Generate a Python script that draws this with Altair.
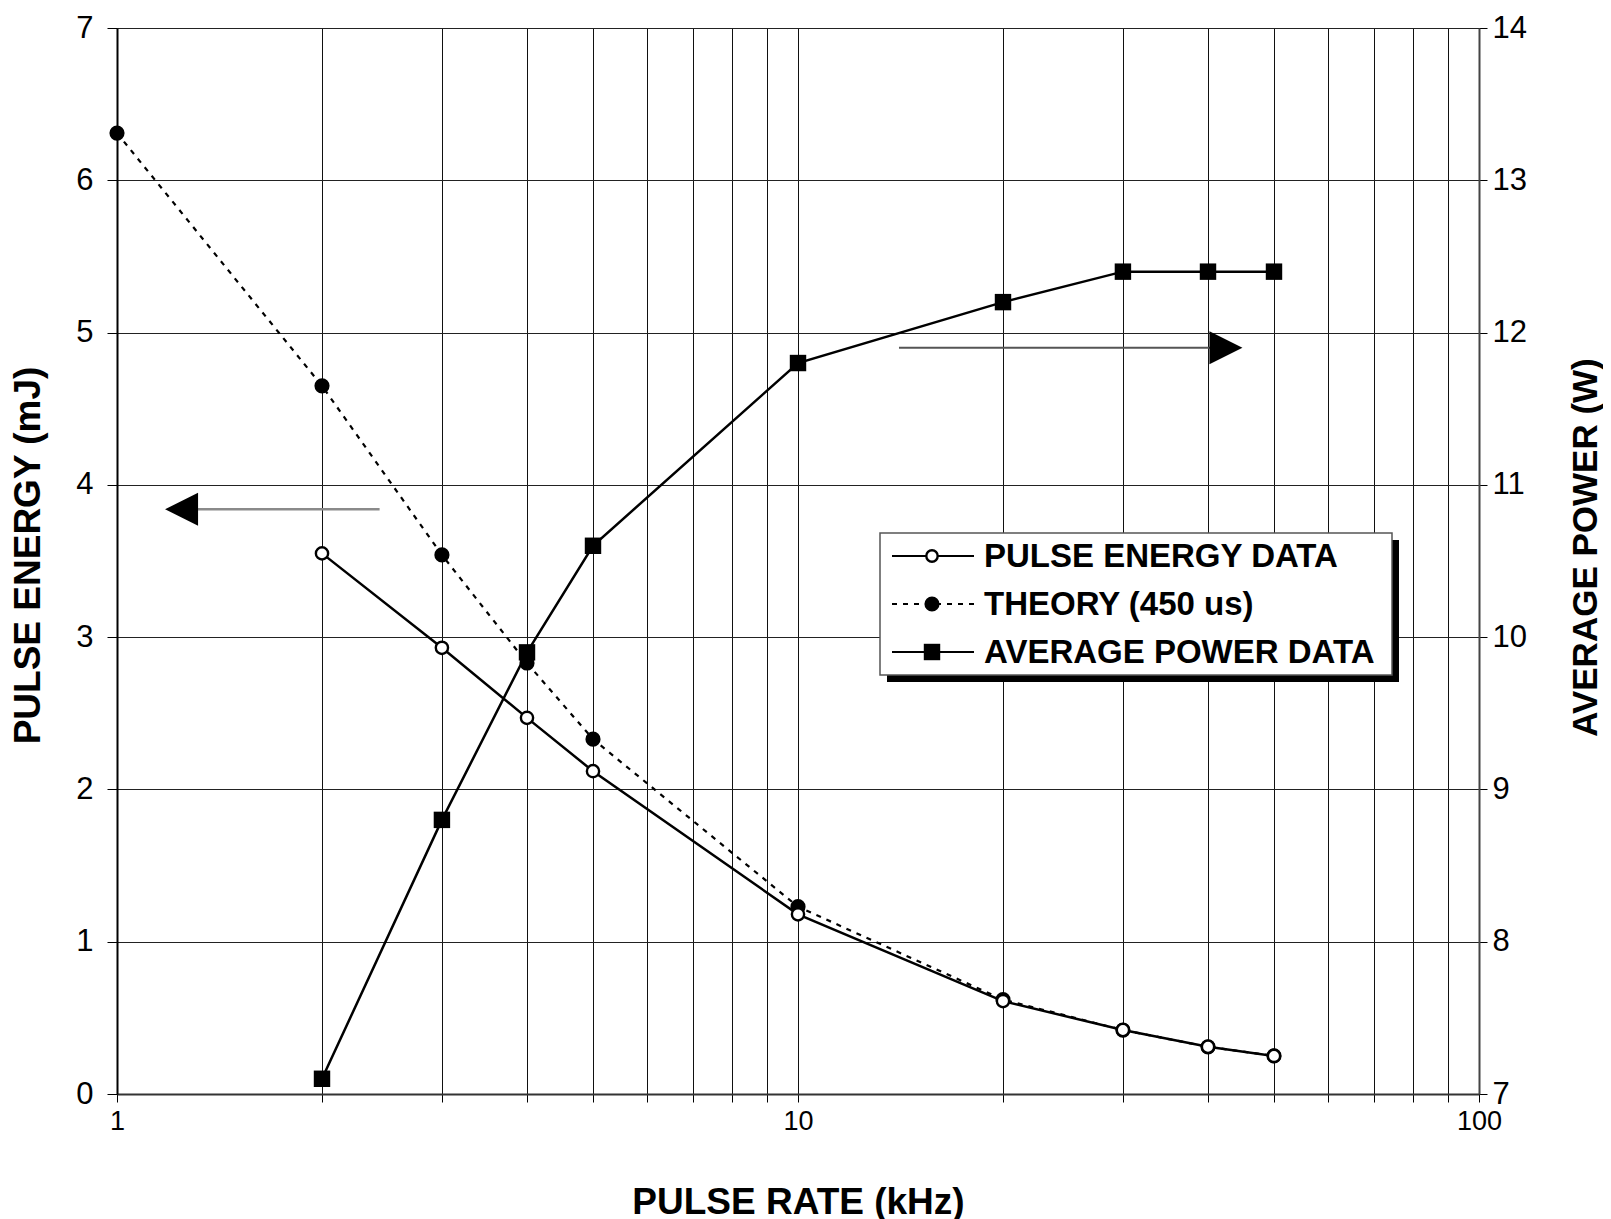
import altair as alt
import pandas as pd

# ---- data ----
rate_theory = [1, 2, 3, 4, 5, 10, 20, 30, 40, 50]
theory = [6.31, 4.65, 3.54, 2.83, 2.33, 1.23, 0.62, 0.42, 0.31, 0.25]

rate_data = [2, 3, 4, 5, 10, 20, 30, 40, 50]
energy = [3.55, 2.93, 2.47, 2.12, 1.18, 0.61, 0.42, 0.31, 0.25]
power = [7.1, 8.8, 9.9, 10.6, 11.8, 12.2, 12.4, 12.4, 12.4]

series_names = ["PULSE ENERGY DATA", "THEORY (450 us)", "AVERAGE POWER DATA"]

x_ticks = [1, 2, 3, 4, 5, 6, 7, 8, 9, 10, 20, 30, 40, 50, 60, 70, 80, 90, 100]
left_ticks = [0, 1, 2, 3, 4, 5, 6, 7]
right_ticks = [7, 8, 9, 10, 11, 12, 13, 14]

# arrows (data coordinates)
left_arrow_x = [2.43, 1.315]
left_arrow_y = 3.84
left_head_x = 1.244
right_arrow_x = [14.07, 40.3]
right_arrow_y = 11.90
right_head_x = 42.5

FONT = "Liberation Sans"
W, H = 1362, 1066

theory_df = pd.DataFrame({"rate": rate_theory, "val": theory})
energy_df = pd.DataFrame({"rate": rate_data, "val": energy})
power_df = pd.DataFrame({"rate": rate_data, "val": power})

xscale = alt.Scale(type="log", domain=[1, 100], nice=False)
xaxis = alt.Axis(
    values=x_ticks,
    labelExpr="(datum.value == 1 || datum.value == 10 || datum.value == 100) ? datum.label : ''",
    labelFlush=False,
    title="PULSE RATE (kHz)",
    grid=True, gridColor="#111111", gridWidth=1, gridOpacity=1,
    tickSize=8, tickColor="#000000", domain=True, domainColor="#333333", domainWidth=2,
    labelFont=FONT, labelFontSize=27, labelPadding=6, labelColor="#000000",
    titleFont=FONT, titleFontSize=37, titleFontWeight="bold", titlePadding=50, titleColor="#000000",
)
ey = alt.Scale(domain=[0, 7], nice=False, zero=False)
py = alt.Scale(domain=[7, 14], nice=False, zero=False)
left_axis = alt.Axis(
    orient="left", values=left_ticks, format="d", title="PULSE ENERGY (mJ)",
    grid=True, gridColor="#222222", gridWidth=1, gridOpacity=1,
    tickSize=10, tickColor="#000000", domainColor="#000000", domainWidth=2,
    labelFont=FONT, labelFontSize=31, labelPadding=14, labelColor="#000000",
    titleFont=FONT, titleFontSize=37, titleFontWeight="bold", titlePadding=28,
    titleY=527, titleColor="#000000",
)
right_axis = alt.Axis(
    orient="right", values=right_ticks, format="d", title="AVERAGE POWER (W)",
    grid=False, tickSize=8, tickColor="#000000", domainColor="#444444", domainWidth=2,
    labelFont=FONT, labelFontSize=31, labelPadding=5, labelColor="#000000",
    titleFont=FONT, titleFontSize=35, titleFontWeight="bold", titlePadding=77,
    titleAngle=270, titleY=519, titleColor="#000000",
)

X = alt.X("rate:Q", scale=xscale, axis=xaxis)
Xn = alt.X("rate:Q", scale=xscale)

theory_line = alt.Chart(theory_df).mark_line(
    color="black", strokeWidth=2.2, strokeDash=[5, 6]
).encode(x=X, y=alt.Y("val:Q", scale=ey, axis=left_axis))
theory_pts = alt.Chart(theory_df).mark_point(
    shape="circle", filled=True, color="black", size=230, opacity=1
).encode(x=Xn, y=alt.Y("val:Q", scale=ey))
energy_line = alt.Chart(energy_df).mark_line(color="black", strokeWidth=2.5).encode(
    x=Xn, y=alt.Y("val:Q", scale=ey))
energy_pts = alt.Chart(energy_df).mark_point(
    shape="circle", filled=True, fill="white", stroke="black", strokeWidth=2.4, size=150, opacity=1
).encode(x=Xn, y=alt.Y("val:Q", scale=ey))

la_df = pd.DataFrame({"rate": left_arrow_x, "val": [left_arrow_y] * 2})
la_line = alt.Chart(la_df).mark_line(color="#8a8a8a", strokeWidth=2.5).encode(
    x=Xn, y=alt.Y("val:Q", scale=ey))
la_head = alt.Chart(pd.DataFrame({"rate": [left_head_x], "val": [left_arrow_y]})).mark_point(
    shape="M-1,0L1,-1L1,1Z", filled=True, color="black", size=1089, opacity=1
).encode(x=Xn, y=alt.Y("val:Q", scale=ey))

energy_layer = alt.layer(theory_line, theory_pts, energy_line, energy_pts, la_line, la_head)

power_line = alt.Chart(power_df).mark_line(color="black", strokeWidth=2.5).encode(
    x=Xn, y=alt.Y("val:Q", scale=py, axis=right_axis))
power_pts = alt.Chart(power_df).mark_point(
    shape="square", filled=True, color="black", size=270, opacity=1
).encode(x=Xn, y=alt.Y("val:Q", scale=py))
ra_df = pd.DataFrame({"rate": right_arrow_x, "val": [right_arrow_y] * 2})
ra_line = alt.Chart(ra_df).mark_line(color="#555555", strokeWidth=2).encode(
    x=Xn, y=alt.Y("val:Q", scale=py))
ra_head = alt.Chart(pd.DataFrame({"rate": [right_head_x], "val": [right_arrow_y]})).mark_point(
    shape="M1,0L-1,-1L-1,1Z", filled=True, color="black", size=1089, opacity=1
).encode(x=Xn, y=alt.Y("val:Q", scale=py))

power_layer = alt.layer(power_line, power_pts, ra_line, ra_head)

# ---- legend (drawn box) ----
lx0, lx1, ly0, ly1 = 763, 1275, 505, 647
rows = [528, 576, 624]
shadow = alt.Chart(pd.DataFrame({"a": [0]})).mark_rect(color="black").encode(
    x=alt.value(lx0 + 7), x2=alt.value(lx1 + 7), y=alt.value(ly0 + 7), y2=alt.value(ly1 + 7))
box = alt.Chart(pd.DataFrame({"a": [0]})).mark_rect(
    fill="white", stroke="#555555", strokeWidth=1.5).encode(
    x=alt.value(lx0), x2=alt.value(lx1), y=alt.value(ly0), y2=alt.value(ly1))
leg_layers = [shadow, box]
styles = [
    dict(dash=[1, 0], shape="circle", filled=False, size=130),
    dict(dash=[5, 6], shape="circle", filled=True, size=230),
    dict(dash=[1, 0], shape="square", filled=True, size=270),
]
for name, ry, st in zip(series_names, rows, styles):
    d = pd.DataFrame({"name": [name]})
    leg_layers.append(alt.Chart(d).mark_rule(
        color="black", strokeWidth=2.2, strokeDash=st["dash"]).encode(
        x=alt.value(775), x2=alt.value(857), y=alt.value(ry)))
    if st["filled"]:
        pt = alt.Chart(d).mark_point(shape=st["shape"], filled=True, color="black",
                                     size=st["size"], opacity=1)
    else:
        pt = alt.Chart(d).mark_point(shape=st["shape"], filled=True, fill="white",
                                     stroke="black", strokeWidth=2.4, size=st["size"], opacity=1)
    leg_layers.append(pt.encode(x=alt.value(815), y=alt.value(ry)))
    leg_layers.append(alt.Chart(d).mark_text(
        align="left", baseline="middle", font=FONT, fontSize=33, fontWeight="bold",
        color="black").encode(x=alt.value(867), y=alt.value(ry + 1), text="name:N"))

legend_layer = alt.layer(*leg_layers)

chart = alt.layer(energy_layer, power_layer, legend_layer).resolve_scale(
    y="independent"
).properties(
    width=W, height=H,
    autosize=alt.AutoSizeParams(type="none"),
    padding={"left": 109, "top": 20, "right": 124, "bottom": 150},
).configure_view(
    stroke="#808080", strokeWidth=2
).configure(background="white")

chart.save("out.html", embed_options={"renderer": "svg", "actions": False})
